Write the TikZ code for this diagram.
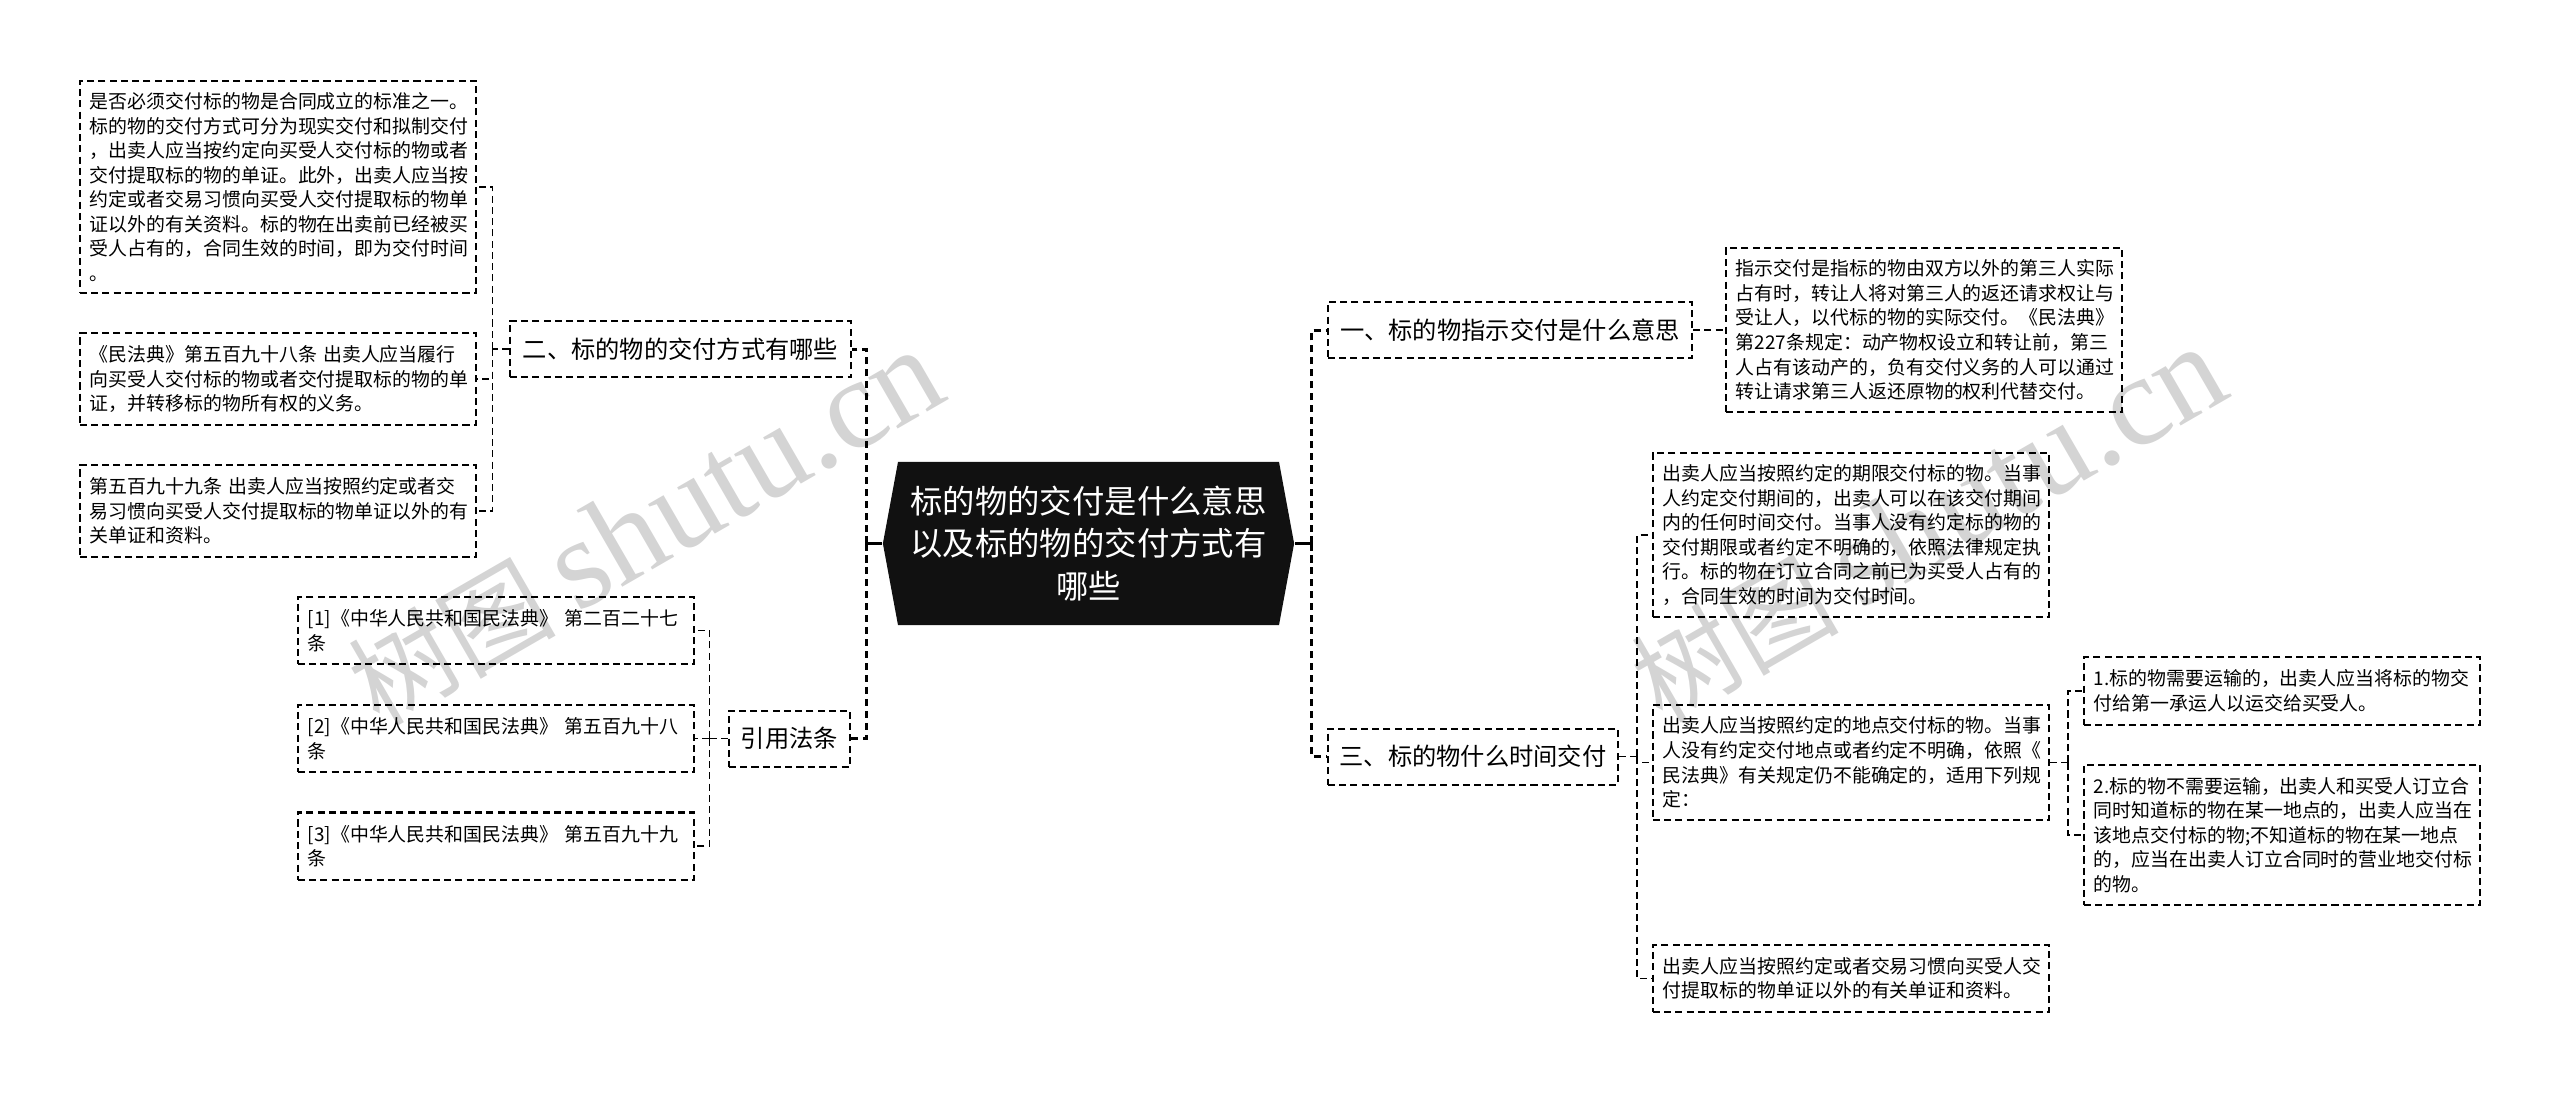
\documentclass[tikz,border=0pt]{standalone}
\usepackage{xcolor}
\usepackage{fontspec}
\usetikzlibrary{shapes.symbols}
\setmainfont{Noto Sans CJK SC}
\newfontfamily\wmfont{Liberation Serif}
\definecolor{M0}{HTML}{111111}
\definecolor{W0}{HTML}{d4d4d4}
\tikzset{%
  leafbox/.style={draw, line width=0.57pt, dash pattern=on 2pt off 1.2pt, align=left, text width=3.76cm, inner xsep=0.1cm, inner ysep=0pt, font=\fontsize{5.38}{6.97}\selectfont},%
  branchbox/.style={draw, line width=0.57pt, dash pattern=on 2pt off 1.2pt, minimum height=0.56cm, inner xsep=0pt, inner ysep=0pt, font=\fontsize{6.9}{8.4}\selectfont},%
  mainbox/.style={shape=signal, signal from=nowhere, signal to=east and west, signal pointer angle=159, fill=M0, text=white, align=center, text width=3.6cm, inner sep=0pt, minimum width=4.11cm, minimum height=1.63cm, font=\fontsize{9.2}{12}\selectfont},%
  wmark/.style={text=W0, rotate=30, inner sep=0pt, font=\fontsize{29.5}{36}\selectfont},%
  thinlink/.style={line width=0.42pt, dash pattern=on 2pt off 1.2pt},%
  mainlink/.style={line width=0.85pt, dash pattern=on 2pt off 1.4pt},%
  mainstub/.style={line width=0.85pt}%
}
\begin{document}
\begin{tikzpicture}[x=0.01cm, y=-0.01cm]%
\useasboundingbox (0,0) rectangle (2560,1093);%
\node[wmark] (wmleft) at (645,528) {树图\hspace{6pt}{\wmfont\fontsize{36.5}{42}\selectfont shutu.cn}};%
\node[wmark] (wmright) at (1928,525) {树图\hspace{6pt}{\wmfont\fontsize{36.5}{42}\selectfont shutu.cn}};%
\node[mainbox] (main) at (1088.5,543.5) {标的物的交付是什么意思\\以及标的物的交付方式有\\哪些};%
\node[branchbox, minimum width=3.41cm] (way) at (680.5,349) {二、标的物的交付方式有哪些};%
\node[branchbox, minimum width=1.21cm] (cite) at (789.5,738.5) {引用法条};%
\node[branchbox, minimum width=3.64cm] (mean) at (1510,330) {一、标的物指示交付是什么意思};%
\node[branchbox, minimum width=2.90cm] (when) at (1473,756.5) {三、标的物什么时间交付};%
\node[leafbox, minimum height=2.12cm] (wayone) at (278,187) {是否必须交付标的物是合同成立的标准之一。\\标的物的交付方式可分为现实交付和拟制交付\\，出卖人应当按约定向买受人交付标的物或者\\交付提取标的物的单证。此外，出卖人应当按\\约定或者交易习惯向买受人交付提取标的物单\\证以外的有关资料。标的物在出卖前已经被买\\受人占有的，合同生效的时间，即为交付时间\\。};%
\node[leafbox, minimum height=0.92cm] (waytwo) at (278,379) {《民法典》第五百九十八条 出卖人应当履行\\向买受人交付标的物或者交付提取标的物的单\\证，并转移标的物所有权的义务。};%
\node[leafbox, minimum height=0.92cm] (waythree) at (278,511) {第五百九十九条 出卖人应当按照约定或者交\\易习惯向买受人交付提取标的物单证以外的有\\关单证和资料。};%
\node[leafbox, minimum height=0.67cm] (citeone) at (496,630.5) {[1]《中华人民共和国民法典》 第二百二十七\\条};%
\node[leafbox, minimum height=0.67cm] (citetwo) at (496,738.5) {[2]《中华人民共和国民法典》 第五百九十八\\条};%
\node[leafbox, minimum height=0.67cm] (citethree) at (496,846) {[3]《中华人民共和国民法典》 第五百九十九\\条};%
\node[leafbox, minimum height=1.64cm] (meanone) at (1924,330) {指示交付是指标的物由双方以外的第三人实际\\占有时，转让人将对第三人的返还请求权让与\\受让人，以代标的物的实际交付。《民法典》\\第227条规定：动产物权设立和转让前，第三\\人占有该动产的，负有交付义务的人可以通过\\转让请求第三人返还原物的权利代替交付。};%
\node[leafbox, minimum height=1.64cm] (whenone) at (1851,535) {出卖人应当按照约定的期限交付标的物。当事\\人约定交付期间的，出卖人可以在该交付期间\\内的任何时间交付。当事人没有约定标的物的\\交付期限或者约定不明确的，依照法律规定执\\行。标的物在订立合同之前已为买受人占有的\\，合同生效的时间为交付时间。};%
\node[leafbox, minimum height=1.15cm] (whentwo) at (1851,762.5) {出卖人应当按照约定的地点交付标的物。当事\\人没有约定交付地点或者约定不明确，依照《\\民法典》有关规定仍不能确定的，适用下列规\\定：};%
\node[leafbox, minimum height=0.67cm] (whenthree) at (1851,978.5) {出卖人应当按照约定或者交易习惯向买受人交\\付提取标的物单证以外的有关单证和资料。};%
\node[leafbox, minimum height=0.68cm] (placeone) at (2282,691) {1.标的物需要运输的，出卖人应当将标的物交\\付给第一承运人以运交给买受人。};%
\node[leafbox, minimum height=1.40cm] (placetwo) at (2282,835) {2.标的物不需要运输，出卖人和买受人订立合\\同时知道标的物在某一地点的，出卖人应当在\\该地点交付标的物;不知道标的物在某一地点\\的，应当在出卖人订立合同时的营业地交付标\\的物。};%
\draw[mainstub] (main.west) -- ++(-16,0) coordinate (leftbus);%
\draw[mainstub] (main.east) -- ++(17,0) coordinate (rightbus);%
\draw[mainlink] (leftbus) |- (way.east);%
\draw[mainlink] (leftbus) |- (cite.east);%
\draw[mainlink] (rightbus) |- (mean.west);%
\draw[mainlink] (rightbus) |- (when.west);%
\draw[thinlink] (way.west) -- ++(-16.5,0) coordinate (waybus);%
\draw[thinlink] (waybus) |- (wayone.east);%
\draw[thinlink] (waybus) |- (waytwo.east);%
\draw[thinlink] (waybus) |- (waythree.east);%
\draw[thinlink] (cite.west) -- ++(-18.5,0) coordinate (citebus);%
\draw[thinlink] (citebus) |- (citeone.east);%
\draw[thinlink] (citebus) -- (citetwo.east);%
\draw[thinlink] (citebus) |- (citethree.east);%
\draw[thinlink] (mean.east) -- (meanone.west);%
\draw[thinlink] (when.east) -- ++(18,0) coordinate (whenbus);%
\draw[thinlink] (whenbus) |- (whenone.west);%
\draw[thinlink] (whenbus) |- (whentwo.west);%
\draw[thinlink] (whenbus) |- (whenthree.west);%
\draw[thinlink] (whentwo.east) -- ++(18,0) coordinate (placebus);%
\draw[thinlink] (placebus) |- (placeone.west);%
\draw[thinlink] (placebus) |- (placetwo.west);%
\end{tikzpicture}
\end{document}
